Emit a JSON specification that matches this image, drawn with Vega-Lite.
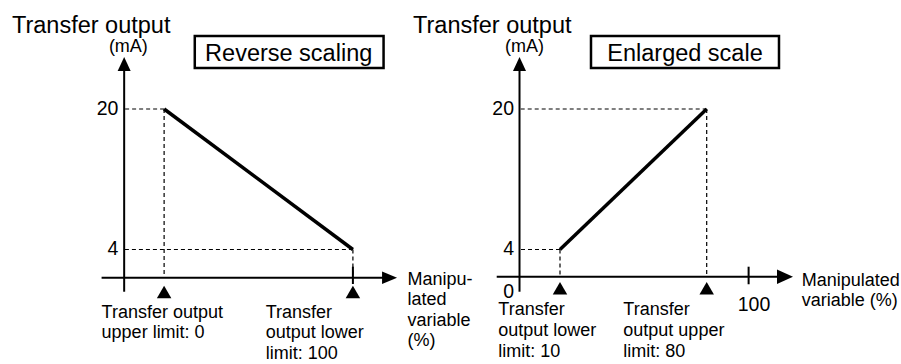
{
  "$schema": "https://vega.github.io/schema/vega-lite/v6.json",
  "padding": 0,
  "spacing": 0,
  "bounds": "flush",
  "background": "white",
  "config": {
    "view": {"stroke": null},
    "axis": {"disable": true},
    "text": {"font": "Liberation Sans", "color": "black"}
  },
  "datasets": {
    "reverse": [{"mv": 0, "ma": 20}, {"mv": 100, "ma": 4}],
    "enlarged": [{"mv": 10, "ma": 4}, {"mv": 80, "ma": 20}]
  },
  "hconcat": [
    {
      "width": 450,
      "height": 364,
      "data": {"name": "reverse"},
      "layer": [
        {
          "mark": {"type": "rule", "color": "black", "strokeWidth": 1.2, "strokeDash": [4, 3]},
          "encoding": {
            "x": {"field": "mv", "type": "quantitative"},
            "x2": {"datum": -21.16},
            "y": {"field": "ma", "type": "quantitative"}
          }
        },
        {
          "mark": {"type": "rule", "color": "black", "strokeWidth": 1.2, "strokeDash": [4, 3]},
          "encoding": {
            "x": {"field": "mv", "type": "quantitative"},
            "y": {"field": "ma", "type": "quantitative"},
            "y2": {"datum": 0.79}
          }
        },
        {
          "data": {"values": [{}]},
          "mark": {"type": "rule", "color": "black", "strokeWidth": 2},
          "encoding": {
            "x": {"datum": -21.16, "type": "quantitative"},
            "y": {"datum": -0.81, "type": "quantitative"},
            "y2": {"datum": 24.55}
          }
        },
        {
          "data": {"values": [{}]},
          "mark": {"type": "rule", "color": "black", "strokeWidth": 2},
          "encoding": {
            "x": {"datum": -33.12, "type": "quantitative"},
            "x2": {"datum": 116.24},
            "y": {"datum": 0.79, "type": "quantitative"}
          }
        },
        {
          "data": {"values": [{}]},
          "mark": {"type": "point", "shape": "M0,-1L-0.93,1L0.93,1Z", "filled": true, "size": 196, "color": "black", "opacity": 1, "strokeWidth": 0},
          "encoding": {
            "x": {"datum": -21.16, "type": "quantitative"},
            "y": {"datum": 25.12, "type": "quantitative"}
          }
        },
        {
          "data": {"values": [{}]},
          "mark": {"type": "point", "shape": "M1,0L-1,-0.84L-1,0.84Z", "filled": true, "size": 225, "color": "black", "opacity": 1, "strokeWidth": 0},
          "encoding": {
            "x": {"datum": 119.42, "type": "quantitative"},
            "y": {"datum": 0.79, "type": "quantitative"}
          }
        },
        {
          "data": {"values": [{}]},
          "mark": {"type": "rule", "color": "black", "strokeWidth": 2},
          "encoding": {
            "x": {"datum": 100, "type": "quantitative"},
            "y": {"datum": 2.04, "type": "quantitative"},
            "y2": {"datum": 0.07}
          }
        },
        {
          "mark": {"type": "point", "shape": "M0,-0.87L-1,0.87L1,0.87Z", "filled": true, "size": 210, "color": "black", "opacity": 1, "strokeWidth": 0},
          "encoding": {
            "x": {"field": "mv", "type": "quantitative"},
            "y": {"datum": -0.84, "type": "quantitative"}
          }
        },
        {
          "mark": {"type": "line", "color": "black", "strokeWidth": 3.5},
          "encoding": {
            "x": {"field": "mv", "type": "quantitative", "scale": {"domain": [-86.93, 151.43], "nice": false, "zero": false}},
            "y": {"field": "ma", "type": "quantitative", "scale": {"domain": [-9.04, 32.41], "nice": false, "zero": false}}
          }
        },
        {
          "mark": {"type": "text", "align": "right", "baseline": "middle", "fontSize": 19.5},
          "encoding": {
            "x": {"datum": -24.23, "type": "quantitative"},
            "y": {"field": "ma", "type": "quantitative"},
            "text": {"field": "ma", "type": "quantitative"}
          }
        },
        {
          "data": {"values": [{}]},
          "mark": {"type": "rect", "fill": "white", "stroke": "black", "strokeWidth": 2.5},
          "encoding": {
            "x": {"datum": 16.24, "type": "quantitative"},
            "x2": {"datum": 116.24},
            "y": {"datum": 28.31, "type": "quantitative"},
            "y2": {"datum": 24.67}
          }
        },
        {
          "data": {"values": [{"label": "Reverse scaling"}]},
          "mark": {"type": "text", "align": "center", "baseline": "alphabetic", "fontSize": 23.5},
          "encoding": {
            "x": {"datum": 65.98, "type": "quantitative"},
            "y": {"datum": 25.47, "type": "quantitative"},
            "text": {"field": "label", "type": "nominal"}
          }
        },
        {
          "data": {"values": [{"label": "Transfer output"}]},
          "mark": {"type": "text", "align": "left", "baseline": "alphabetic", "fontSize": 23.5},
          "encoding": {
            "x": {"datum": -80.6, "type": "quantitative"},
            "y": {"datum": 28.655, "type": "quantitative"},
            "text": {"field": "label", "type": "nominal"}
          }
        },
        {
          "data": {"values": [{"label": "(mA)"}]},
          "mark": {"type": "text", "align": "left", "baseline": "alphabetic", "fontSize": 18},
          "encoding": {
            "x": {"datum": -29.26, "type": "quantitative"},
            "y": {"datum": 26.5, "type": "quantitative"},
            "text": {"field": "label", "type": "nominal"}
          }
        },
        {
          "data": {"values": [{"label": "Transfer output\nupper limit: 0"}]},
          "mark": {"type": "text", "align": "left", "baseline": "alphabetic", "fontSize": 18, "lineBreak": "\n", "lineHeight": 20.5},
          "encoding": {
            "x": {"datum": -33.12, "type": "quantitative"},
            "y": {"datum": -3.8, "type": "quantitative"},
            "text": {"field": "label", "type": "nominal"}
          }
        },
        {
          "data": {"values": [{"label": "Transfer\noutput lower\nlimit: 100"}]},
          "mark": {"type": "text", "align": "left", "baseline": "alphabetic", "fontSize": 18, "lineBreak": "\n", "lineHeight": 20.5},
          "encoding": {
            "x": {"datum": 53.81, "type": "quantitative"},
            "y": {"datum": -3.8, "type": "quantitative"},
            "text": {"field": "label", "type": "nominal"}
          }
        },
        {
          "data": {"values": [{"label": "Manipu-\nlated\nvariable\n(%)"}]},
          "mark": {"type": "text", "align": "left", "baseline": "alphabetic", "fontSize": 18, "lineBreak": "\n", "lineHeight": 20.5},
          "encoding": {
            "x": {"datum": 128.94, "type": "quantitative"},
            "y": {"datum": -0.04, "type": "quantitative"},
            "text": {"field": "label", "type": "nominal"}
          }
        }
      ]
    },
    {
      "width": 451,
      "height": 364,
      "data": {"name": "enlarged"},
      "layer": [
        {
          "mark": {"type": "rule", "color": "black", "strokeWidth": 1.2, "strokeDash": [4, 3]},
          "encoding": {
            "x": {"field": "mv", "type": "quantitative"},
            "x2": {"datum": -9.32},
            "y": {"field": "ma", "type": "quantitative"}
          }
        },
        {
          "mark": {"type": "rule", "color": "black", "strokeWidth": 1.2, "strokeDash": [4, 3]},
          "encoding": {
            "x": {"field": "mv", "type": "quantitative"},
            "y": {"field": "ma", "type": "quantitative"},
            "y2": {"datum": 0.9}
          }
        },
        {
          "data": {"values": [{}]},
          "mark": {"type": "rule", "color": "black", "strokeWidth": 2},
          "encoding": {
            "x": {"datum": -9.32, "type": "quantitative"},
            "y": {"datum": -0.81, "type": "quantitative"},
            "y2": {"datum": 24.55}
          }
        },
        {
          "data": {"values": [{}]},
          "mark": {"type": "rule", "color": "black", "strokeWidth": 2},
          "encoding": {
            "x": {"datum": -20.2, "type": "quantitative"},
            "x2": {"datum": 114.5},
            "y": {"datum": 0.9, "type": "quantitative"}
          }
        },
        {
          "data": {"values": [{}]},
          "mark": {"type": "point", "shape": "M0,-1L-0.93,1L0.93,1Z", "filled": true, "size": 196, "color": "black", "opacity": 1, "strokeWidth": 0},
          "encoding": {
            "x": {"datum": -9.32, "type": "quantitative"},
            "y": {"datum": 25.12, "type": "quantitative"}
          }
        },
        {
          "data": {"values": [{}]},
          "mark": {"type": "point", "shape": "M1,0L-1,-0.9L-1,0.9Z", "filled": true, "size": 256, "color": "black", "opacity": 1, "strokeWidth": 0},
          "encoding": {
            "x": {"datum": 117.36, "type": "quantitative"},
            "y": {"datum": 0.9, "type": "quantitative"}
          }
        },
        {
          "data": {"values": [{}]},
          "mark": {"type": "rule", "color": "black", "strokeWidth": 2},
          "encoding": {
            "x": {"datum": 100, "type": "quantitative"},
            "y": {"datum": 2.04, "type": "quantitative"},
            "y2": {"datum": 0.04}
          }
        },
        {
          "mark": {"type": "point", "shape": "M0,-0.87L-1,0.87L1,0.87Z", "filled": true, "size": 210, "color": "black", "opacity": 1, "strokeWidth": 0},
          "encoding": {
            "x": {"field": "mv", "type": "quantitative"},
            "y": {"datum": -0.42, "type": "quantitative"}
          }
        },
        {
          "mark": {"type": "line", "color": "black", "strokeWidth": 3.5},
          "encoding": {
            "x": {"field": "mv", "type": "quantitative", "scale": {"domain": [-42.49, 172.72], "nice": false, "zero": false}},
            "y": {"field": "ma", "type": "quantitative", "scale": {"domain": [-9.04, 32.41], "nice": false, "zero": false}}
          }
        },
        {
          "mark": {"type": "text", "align": "right", "baseline": "middle", "fontSize": 19.5},
          "encoding": {
            "x": {"datum": -11.95, "type": "quantitative"},
            "y": {"field": "ma", "type": "quantitative"},
            "text": {"field": "ma", "type": "quantitative"}
          }
        },
        {
          "data": {"values": [{"label": "0"}]},
          "mark": {"type": "text", "align": "right", "baseline": "alphabetic", "fontSize": 19.5},
          "encoding": {
            "x": {"datum": -11.95, "type": "quantitative"},
            "y": {"datum": -1.52, "type": "quantitative"},
            "text": {"field": "label", "type": "nominal"}
          }
        },
        {
          "data": {"values": [{"label": "100"}]},
          "mark": {"type": "text", "align": "center", "baseline": "alphabetic", "fontSize": 19.5},
          "encoding": {
            "x": {"datum": 102.57, "type": "quantitative"},
            "y": {"datum": -3.0, "type": "quantitative"},
            "text": {"field": "label", "type": "nominal"}
          }
        },
        {
          "data": {"values": [{}]},
          "mark": {"type": "rect", "fill": "white", "stroke": "black", "strokeWidth": 2.5},
          "encoding": {
            "x": {"datum": 24.79, "type": "quantitative"},
            "x2": {"datum": 114.5},
            "y": {"datum": 28.31, "type": "quantitative"},
            "y2": {"datum": 24.67}
          }
        },
        {
          "data": {"values": [{"label": "Enlarged scale"}]},
          "mark": {"type": "text", "align": "center", "baseline": "alphabetic", "fontSize": 23.5},
          "encoding": {
            "x": {"datum": 69.65, "type": "quantitative"},
            "y": {"datum": 25.47, "type": "quantitative"},
            "text": {"field": "label", "type": "nominal"}
          }
        },
        {
          "data": {"values": [{"label": "Transfer output"}]},
          "mark": {"type": "text", "align": "left", "baseline": "alphabetic", "fontSize": 23.5},
          "encoding": {
            "x": {"datum": -60.14, "type": "quantitative"},
            "y": {"datum": 28.655, "type": "quantitative"},
            "text": {"field": "label", "type": "nominal"}
          }
        },
        {
          "data": {"values": [{"label": "(mA)"}]},
          "mark": {"type": "text", "align": "left", "baseline": "alphabetic", "fontSize": 18},
          "encoding": {
            "x": {"datum": -16.24, "type": "quantitative"},
            "y": {"datum": 26.5, "type": "quantitative"},
            "text": {"field": "label", "type": "nominal"}
          }
        },
        {
          "data": {"values": [{"label": "Transfer\noutput lower\nlimit: 10"}]},
          "mark": {"type": "text", "align": "left", "baseline": "alphabetic", "fontSize": 18, "lineBreak": "\n", "lineHeight": 21},
          "encoding": {
            "x": {"datum": -19.44, "type": "quantitative"},
            "y": {"datum": -3.46, "type": "quantitative"},
            "text": {"field": "label", "type": "nominal"}
          }
        },
        {
          "data": {"values": [{"label": "Transfer\noutput upper\nlimit: 80"}]},
          "mark": {"type": "text", "align": "left", "baseline": "alphabetic", "fontSize": 18, "lineBreak": "\n", "lineHeight": 21},
          "encoding": {
            "x": {"datum": 40.21, "type": "quantitative"},
            "y": {"datum": -3.46, "type": "quantitative"},
            "text": {"field": "label", "type": "nominal"}
          }
        },
        {
          "data": {"values": [{"label": "Manipulated\nvariable (%)"}]},
          "mark": {"type": "text", "align": "left", "baseline": "alphabetic", "fontSize": 18, "lineBreak": "\n", "lineHeight": 20},
          "encoding": {
            "x": {"datum": 125.33, "type": "quantitative"},
            "y": {"datum": -0.157, "type": "quantitative"},
            "text": {"field": "label", "type": "nominal"}
          }
        }
      ]
    }
  ]
}
